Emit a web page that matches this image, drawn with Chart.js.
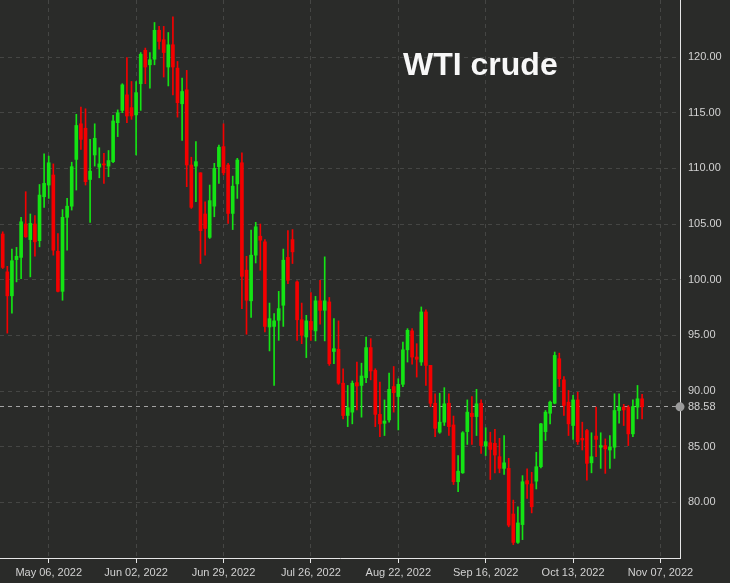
<!DOCTYPE html>
<html>
<head>
<meta charset="utf-8">
<script src="https://cdn.jsdelivr.net/npm/chart.js@4.4.0/dist/chart.umd.min.js"></script>
<style>
  html, body { margin: 0; padding: 0; background: #2a2b29; }
  #wrap { position: relative; width: 730px; height: 583px; }
</style>
</head>
<body>
<div id="wrap"><canvas id="c" width="730" height="583"></canvas></div>
<script>
// ---- data (daily candles, index = trading-day slot) ----
const openV = [104.1,100.7,98.55,101.8,102.0,105.0,103.6,105.0,103.5,107.45,
  108.5,109.4,102.55,98.95,105.6,106.6,110.8,114.0,113.6,109.0,
  111.2,110.1,110.4,110.2,110.6,114.1,115.2,116.6,115.45,114.8,
  117.6,120.6,119.3,119.8,122.4,121.55,119.1,121.1,119.0,115.8,
  117.05,110.3,110.2,109.6,105.9,103.8,106.6,110.15,111.95,110.3,
  105.95,108.6,110.5,100.85,98.1,102.2,103.9,103.4,95.75,95.8,
  96.35,97.7,102.0,103.6,99.8,96.4,94.85,96.25,95.4,98.1,
  97.25,98.0,93.55,93.75,90.7,87.8,88.1,90.75,90.5,91.2,
  93.9,91.85,87.9,87.1,87.4,90.4,89.5,90.6,93.7,95.4,
  93.05,92.6,97.1,92.3,88.9,86.3,87.2,88.9,86.95,81.85,
  82.65,86.35,88.0,87.7,88.9,85.05,85.35,85.3,84.1,83.05,
  83.05,78.95,76.4,78.0,81.95,81.65,81.9,83.2,86.35,88.0,
  88.9,92.9,91.0,89.0,86.9,89.2,85.75,86.45,83.55,85.95,
  84.95,85.1,84.7,84.95,88.25,88.55,88.55,86.15,88.55,89.3];
const highV = [104.3,101.2,102.75,102.9,105.6,107.9,105.9,105.75,108.55,111.3,
  111.1,110.4,104.15,106.3,107.3,110.55,114.85,115.5,115.35,112.6,
  114.0,111.85,111.35,111.6,114.75,115.25,117.6,119.95,117.8,117.8,
  120.4,120.8,120.4,123.1,122.75,122.75,122.2,123.6,119.6,118.1,
  118.8,111.0,112.4,109.6,107.0,108.5,110.45,112.1,114.0,110.45,
  109.3,110.9,111.4,102.1,104.45,105.15,105.0,103.6,97.9,96.95,
  98.95,102.75,104.4,104.5,99.9,97.9,96.8,98.85,98.5,99.95,
  102.05,98.4,96.5,96.3,92.0,90.5,90.9,92.6,92.5,94.85,
  94.7,92.0,90.8,89.2,91.6,92.2,91.1,94.4,95.6,95.6,
  94.25,97.55,97.3,92.3,89.75,89.8,90.3,89.75,87.75,84.2,
  86.35,89.2,89.5,90.15,89.2,86.7,86.3,86.55,85.75,86.0,
  83.95,80.2,79.6,82.4,83.0,82.7,84.5,87.1,88.25,89.1,
  93.5,93.4,91.3,90.05,89.6,89.9,87.2,86.55,86.25,88.55,
  86.25,85.7,86.0,89.75,89.75,88.8,88.7,89.2,90.5,89.7];
const lowV = [101.0,95.2,97.0,99.8,100.1,103.8,100.25,102.1,102.95,106.5,
  107.3,102.2,98.9,98.15,102.65,106.25,108.05,111.7,108.5,105.15,
  110.2,109.15,108.65,109.25,110.5,112.85,115.0,114.1,114.4,111.2,
  115.2,117.6,117.2,119.3,120.7,118.2,117.4,116.6,114.6,112.5,
  108.35,106.4,107.0,101.45,102.2,103.7,105.65,108.65,109.4,105.05,
  104.5,107.3,97.4,95.1,96.6,101.5,100.85,95.3,93.6,90.5,
  94.55,95.8,99.65,101.45,94.55,94.25,93.0,94.55,94.5,96.0,
  94.5,92.3,92.45,90.6,87.5,86.8,87.05,88.3,87.65,90.75,
  91.0,86.8,85.9,86.0,87.2,88.1,86.5,90.4,92.6,92.4,
  91.25,92.3,90.5,88.6,85.9,86.2,86.9,86.0,81.6,80.95,
  82.6,85.2,85.2,86.0,84.4,84.2,82.05,82.65,82.65,82.5,
  77.8,76.2,76.3,76.65,80.35,79.05,81.2,83.1,85.55,87.05,
  88.85,90.4,87.8,86.0,85.65,85.2,84.7,82.0,82.65,84.1,
  83.05,82.6,83.05,83.95,87.1,86.9,85.1,85.9,87.5,87.5];
const closeV = [101.1,98.55,101.7,102.1,105.2,103.85,105.05,103.4,107.6,108.65,
  110.5,102.65,98.95,105.6,106.6,110.15,113.85,112.6,108.8,109.75,
  112.7,110.4,110.3,110.7,114.25,115.0,117.5,114.7,114.7,116.8,
  120.25,119.1,119.75,122.4,121.4,120.4,121.1,119.1,115.9,116.9,
  110.3,106.5,110.6,104.4,104.6,107.1,110.0,111.9,109.6,105.95,
  108.4,110.75,100.3,98.15,102.2,104.75,103.55,95.8,96.5,96.3,
  97.4,101.75,99.95,102.5,96.4,95.0,96.3,95.5,98.1,97.25,
  98.1,92.45,93.8,90.7,87.8,88.5,90.7,90.45,91.35,93.9,
  91.8,87.9,87.05,87.3,90.15,89.85,90.6,93.7,95.45,93.05,
  92.85,97.1,92.3,88.9,86.65,87.2,88.85,86.8,81.85,82.8,
  86.25,88.1,87.7,88.85,85.1,85.45,84.75,84.25,83.05,83.55,
  77.95,76.4,78.15,81.85,81.65,79.6,83.2,87.05,88.1,89.0,
  93.2,91.1,88.7,87.05,89.2,85.45,85.6,83.5,84.1,85.65,
  85.1,84.8,84.95,88.25,88.55,88.3,86.15,88.6,89.3,88.58];

const tickSlots  = [10, 29, 48, 67, 86, 105, 124, 143];
const tickLabels = ['May 06, 2022','Jun 02, 2022','Jun 29, 2022','Jul 26, 2022',
                    'Aug 22, 2022','Sep 16, 2022','Oct 13, 2022','Nov 07, 2022'];
const priceTicks = [80, 85, 90, 95, 100, 105, 110, 115, 120];
const lastPrice  = closeV[closeV.length - 1];
const chartTitle = 'WTI crude';

// ---- styles ----
const UP = '#14e414', DOWN = '#f40000';
const GRID = '#454644', AXIS = '#e6e6e6', TEXT = '#d2d2d2';

const candleColors = closeV.map((c, i) => c >= openV[i] ? UP : DOWN);
const bodies = openV.map((o, i) => ({ x: i, y: [o, closeV[i]] }));
const wicks  = lowV.map((l, i) => ({ x: i, y: [l, highV[i]] }));

const overlay = {
  id: 'overlay',
  afterDraw(chart) {
    const { ctx, chartArea, scales } = chart;
    ctx.save();
    // last price marker
    const py = scales.y.getPixelForValue(lastPrice);
    ctx.fillStyle = '#9b9b9b';
    ctx.beginPath();
    ctx.arc(chartArea.right, py, 4.5, 0, Math.PI * 2);
    ctx.fill();
    // title
    ctx.fillStyle = '#f7f7f7';
    ctx.font = 'bold 32px "Liberation Sans", Arial, sans-serif';
    ctx.textBaseline = 'alphabetic';
    ctx.textAlign = 'left';
    ctx.fillText(chartTitle, 403, 75);
    ctx.restore();
  }
};

new Chart(document.getElementById('c'), {
  type: 'bar',
  data: {
    datasets: [
      { label: 'body', data: bodies, backgroundColor: candleColors, borderWidth: 0,
        barThickness: 3, grouped: false, minBarLength: 1 },
      { label: 'wick', data: wicks, backgroundColor: candleColors, borderWidth: 0,
        barThickness: 1, grouped: false }
    ]
  },
  options: {
    responsive: false,
    animation: false,
    devicePixelRatio: 1,
    layout: { padding: 0 },
    plugins: { legend: { display: false }, tooltip: { enabled: false }, title: { display: false } },
    scales: {
      x: {
        type: 'linear',
        min: -0.59, max: 147.24,
        offset: false,
        grid: { offset: false, color: GRID, lineWidth: 1, drawTicks: true, tickLength: 5, tickColor: AXIS },
        border: { display: true, color: AXIS, width: 1, dash: [4, 4] },
        ticks: {
          color: TEXT, font: { family: '"Liberation Sans", Arial, sans-serif', size: 11 },
          autoSkip: false, maxRotation: 0, padding: 3,
          callback: (v, i) => tickLabels[i]
        },
        afterBuildTicks: s => { s.ticks = tickSlots.map(v => ({ value: v })); },
        afterFit: s => { s.height = 25; s.paddingLeft = 0; s.paddingRight = 0; }
      },
      y: {
        type: 'linear',
        position: 'right',
        min: 75, max: 125.12,
        beginAtZero: false,
        grid: {
          color: c => (c.tick && Math.abs(c.tick.value - lastPrice) < 1e-6) ? '#a3a3a3' : GRID,
          lineWidth: 1, drawTicks: false
        },
        border: { display: true, color: AXIS, width: 1, dash: [4, 4] },
        ticks: {
          color: TEXT, font: { family: '"Liberation Sans", Arial, sans-serif', size: 11 },
          autoSkip: false, padding: 8,
          callback: v => Number(v).toFixed(2)
        },
        afterBuildTicks: s => {
          s.ticks = priceTicks.concat([lastPrice]).sort((a, b) => a - b).map(v => ({ value: v }));
        },
        afterFit: s => { s.width = 50; s.paddingTop = 0; s.paddingBottom = 0; }
      }
    }
  },
  plugins: [overlay]
});
</script>
</body>
</html>
